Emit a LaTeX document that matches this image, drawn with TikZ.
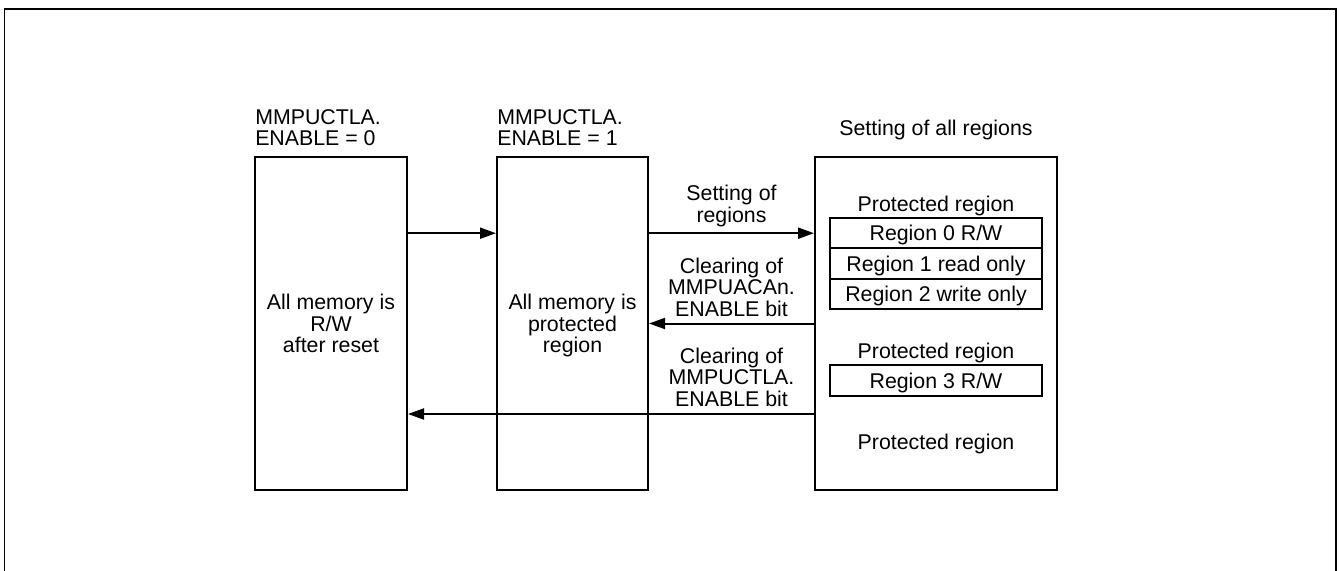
\documentclass[tikz,border=0pt]{standalone}
\usepackage{fontspec}
\setmainfont{Liberation Sans}
\usetikzlibrary{arrows.meta}
\begin{document}
\begin{tikzpicture}[x=0.75pt,y=-0.75pt,
  every node/.style={font=\fontsize{16pt}{16.1pt}\selectfont, inner sep=0pt},
  bigbox/.style={draw, line width=1.5pt, minimum height=249.75pt},
  regbox/.style={draw, line width=1.4pt, minimum width=159pt, minimum height=22.75pt, text height=11.4pt, text depth=0pt},
  txt/.style={align=center, anchor=north},
  ttl/.style={align=left, anchor=north west},
  arr/.style={line width=1.5pt, -{Triangle[length=12pt,width=8.25pt]}}]
\useasboundingbox (0,0) rectangle (1339,571);
\draw[line width=0.9pt] (4.5,590) -- (4.5,9) -- (1336,9) -- (1336,590);
% main boxes
\node[bigbox, minimum width=114pt] (A) at (331,323.5) {};
\node[bigbox, minimum width=113.25pt] (B) at (572.5,323.5) {};
\node[bigbox, minimum width=181.5pt] (C) at (936,323.5) {};
% titles
\node[ttl] (tA) at (255,109) {MMPUCTLA.\\ENABLE = 0};
\node[ttl] (tB) at (497,109) {MMPUCTLA.\\ENABLE = 1};
\node[txt] (tC) at (936,120) {Setting of all regions};
% box texts
\node[txt] (xA) at (331,294) {All memory is\\R/W\\after reset};
\node[txt] (xB) at (572.5,294) {All memory is\\protected\\region};
% region boxes
\node[txt] (p1) at (936,196) {Protected region};
\node[regbox] (r0) at (936,233.2) {Region 0 R/W};
\node[regbox] (r1) at (936,263.5) {Region 1 read only};
\node[regbox] (r2) at (936,293.8) {Region 2 write only};
\node[txt] (p2) at (936,343) {Protected region};
\node[regbox] (r3) at (936,380.5) {Region 3 R/W};
\node[txt] (p3) at (936,433.3) {Protected region};
% arrow labels
\node[txt] (l1) at (731.5,185) {Setting of\\regions};
\node[txt] (l2) at (731.5,257.7) {Clearing of\\MMPUACAn.\\ENABLE bit};
\node[txt] (l3) at (731.5,347.7) {Clearing of\\MMPUCTLA.\\ENABLE bit};
% connectors
\coordinate (ylow) at (0,414);
\draw[arr] (A.east |- r0) -- (B.west |- r0);
\draw[arr] (B.east |- r0) -- (C.west |- r0);
\draw[arr] (C.west) -- (B.east);
\draw[arr] (C.west |- ylow) -- (A.east |- ylow);
\end{tikzpicture}
\end{document}
